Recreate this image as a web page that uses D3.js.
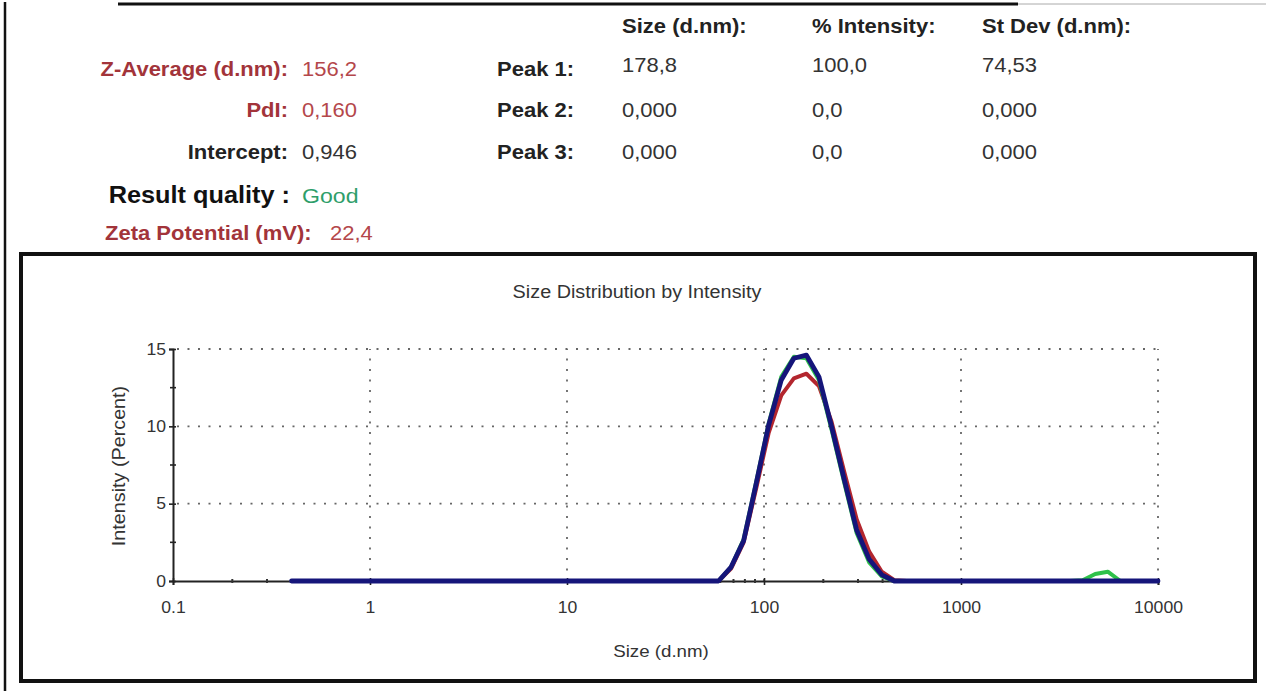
<!DOCTYPE html>
<html>
<head>
<meta charset="utf-8">
<script src="https://cdn.jsdelivr.net/npm/d3@7"></script>
<style>
  html, body { margin: 0; padding: 0; background: #fff; }
  svg { display: block; font-family: "Liberation Sans", Arial, sans-serif; }
</style>
</head>
<body>
<svg id="chart" width="1266" height="691"></svg>
<script>
// ---------- DATA ----------
const sizes      = [0.4, 43.82, 50.75, 58.77, 68.06, 78.82, 91.28, 105.7, 122.4, 141.8, 164.2, 190.1, 220.2, 255.0, 295.3, 342.0, 396.1, 458.7, 531.2, 615.1, 3580, 4145, 4801, 5560, 6439, 7456, 10000];
const record1Red   = [0, 0, 0, 0, 0.8, 2.5, 6.0, 9.6, 12.0, 13.1, 13.4, 12.6, 10.3, 7.1, 4.0, 1.9, 0.6, 0.05, 0, 0, 0, 0, 0, 0, 0, 0, 0];
const record2Green = [0, 0, 0, 0, 0.9, 2.7, 6.4, 10.2, 13.2, 14.5, 14.4, 13.0, 9.8, 6.4, 3.1, 1.2, 0.3, 0, 0, 0, 0, 0.05, 0.45, 0.6, 0, 0, 0];
const record3Blue  = [0, 0, 0, 0, 0.9, 2.6, 6.3, 10.1, 13.0, 14.4, 14.6, 13.2, 10.0, 6.6, 3.3, 1.4, 0.4, 0, 0, 0, 0, 0, 0, 0, 0, 0, 0];

const xTickValues = [0.1, 1, 10, 100, 1000, 10000];
const xTickLabels = ["0.1", "1", "10", "100", "1000", "10000"];
const xGridValues = [1, 10, 100, 1000, 10000];
const yTickValues = [0, 5, 10, 15];
const yTickLabels = ["0", "5", "10", "15"];
const yMinorValues = [2.5, 7.5, 12.5];
const yGridValues = [5, 10, 15];

const chartTitle = "Size Distribution by Intensity";
const xAxisTitle = "Size (d.nm)";
const yAxisTitle = "Intensity (Percent)";

const leftLabels = ["Z-Average (d.nm):", "PdI:", "Intercept:"];
const leftValues = ["156,2", "0,160", "0,946"];
const qualityLabel = "Result quality :";
const qualityValue = "Good";
const zetaLabel = "Zeta Potential (mV):";
const zetaValue = "22,4";
const peakLabels = ["Peak 1:", "Peak 2:", "Peak 3:"];
const peakHeaders = ["Size (d.nm):", "% Intensity:", "St Dev (d.nm):"];
const peakSize = ["178,8", "0,000", "0,000"];
const peakIntensity = ["100,0", "0,0", "0,0"];
const peakStDev = ["74,53", "0,000", "0,000"];

// ---------- SETUP ----------
const svg = d3.select("#chart");
const K = 1.1; // horizontal glyph stretch of the reference
function stretch(sel, k) {
  sel.each(function () {
    const L = this.getComputedTextLength();
    d3.select(this).attr("textLength", L * k).attr("lengthAdjust", "spacingAndGlyphs");
  });
  return sel;
}

// outer frame
svg.append("line").attr("x1", 118).attr("x2", 1018).attr("y1", 4).attr("y2", 4)
  .attr("stroke", "#111").attr("stroke-width", 3);
svg.append("line").attr("x1", 1018).attr("x2", 1266).attr("y1", 4).attr("y2", 4)
  .attr("stroke", "#aaa").attr("stroke-width", 1);
svg.append("line").attr("x1", 5).attr("x2", 5).attr("y1", 2).attr("y2", 691)
  .attr("stroke", "#111").attr("stroke-width", 2.5);

// ---------- HEADER TEXT ----------
const red1 = "#a2343a", red2 = "#b4474b", dark = "#222", grey = "#333";
const rowY = [76, 117, 159];
const rowYRight = [72, 117, 159];

const hdr = svg.append("g").attr("font-size", 20);
leftLabels.forEach((t, i) => {
  stretch(hdr.append("text").attr("x", 288).attr("y", rowY[i]).attr("text-anchor", "end")
    .attr("font-weight", "bold").attr("fill", i < 2 ? red1 : dark).text(t), K);
  stretch(hdr.append("text").attr("x", 302).attr("y", rowY[i])
    .attr("fill", i < 2 ? red2 : grey).text(leftValues[i]), K);
});
stretch(hdr.append("text").attr("x", 290).attr("y", 203).attr("text-anchor", "end")
  .attr("font-size", 23).attr("font-weight", "bold").attr("fill", "#111").text(qualityLabel), K);
stretch(hdr.append("text").attr("x", 302).attr("y", 203)
  .attr("font-size", 21).attr("fill", "#2e9e6a").text(qualityValue), K);
stretch(hdr.append("text").attr("x", 105).attr("y", 240)
  .attr("font-weight", "bold").attr("fill", red1).text(zetaLabel), K);
stretch(hdr.append("text").attr("x", 330).attr("y", 240)
  .attr("fill", red2).text(zetaValue), K);

peakLabels.forEach((t, i) => {
  stretch(hdr.append("text").attr("x", 497).attr("y", rowY[i])
    .attr("font-weight", "bold").attr("fill", dark).text(t), K);
});
const colX = [622, 812, 982];
peakHeaders.forEach((t, i) => {
  stretch(hdr.append("text").attr("x", colX[i]).attr("y", 33)
    .attr("font-weight", "bold").attr("fill", dark).text(t), K);
});
[peakSize, peakIntensity, peakStDev].forEach((col, j) => {
  col.forEach((t, i) => {
    stretch(hdr.append("text").attr("x", colX[j]).attr("y", rowYRight[i])
      .attr("fill", grey).text(t), K);
  });
});

// ---------- CHART BOX ----------
svg.append("rect").attr("x", 21).attr("y", 254).attr("width", 1234).attr("height", 427)
  .attr("fill", "none").attr("stroke", "#111").attr("stroke-width", 4);

const x = d3.scaleLog().domain([0.1, 10000]).range([173, 1158]);
const y = d3.scaleLinear().domain([0, 15]).range([581, 349]);

// title
stretch(svg.append("text").attr("x", 637).attr("y", 298).attr("text-anchor", "middle")
  .attr("font-size", 18).attr("fill", "#333").text(chartTitle), K);

// grid
const grid = svg.append("g").attr("stroke", "#666").attr("stroke-width", 1.8)
  .attr("stroke-dasharray", "2,8.5");
grid.selectAll(".vg").data(xGridValues).join("line")
  .attr("x1", d => x(d)).attr("x2", d => x(d)).attr("y1", y(0)).attr("y2", y(15));
grid.selectAll(".hg").data(yGridValues).join("line")
  .attr("x1", x(0.1) + 4).attr("x2", x(10000)).attr("y1", d => y(d)).attr("y2", d => y(d));

// axes
const xAxis = d3.axisBottom(x).tickValues(xTickValues)
  .tickFormat((d, i) => xTickLabels[i]).tickSize(4).tickPadding(17);
const gx = svg.append("g").attr("transform", `translate(0,${y(0)})`).call(xAxis);
gx.select(".domain").attr("stroke", "#222").attr("stroke-width", 1.8);
gx.selectAll(".tick line").attr("stroke", "#222").attr("y1", -3).attr("stroke-width", 1.6);
gx.selectAll(".tick text").attr("font-size", 16).attr("fill", "#333")
  .attr("font-family", "'Liberation Sans', Arial, sans-serif");
stretch(gx.selectAll(".tick text"), K);

// minor x ticks
const minorX = [];
[0.1, 1, 10, 100, 1000].forEach(dec => [2, 3, 4, 5, 6, 7, 8, 9].forEach(m => minorX.push(dec * m)));
svg.append("g").selectAll("line").data(minorX).join("line")
  .attr("x1", d => x(d)).attr("x2", d => x(d)).attr("y1", y(0) - 2).attr("y2", y(0) + 2)
  .attr("stroke", "#333").attr("stroke-width", 2);

const yAxis = d3.axisLeft(y).tickValues(yTickValues)
  .tickFormat((d, i) => yTickLabels[i]).tickSize(4).tickPadding(3);
const gy = svg.append("g").attr("transform", `translate(${x(0.1)},0)`).call(yAxis);
gy.select(".domain").attr("stroke", "#222").attr("stroke-width", 2);
gy.selectAll(".tick line").attr("stroke", "#222").attr("x2", -4).attr("x1", 3).attr("stroke-width", 1.6);
gy.selectAll(".tick text").attr("font-size", 16).attr("fill", "#333")
  .attr("font-family", "'Liberation Sans', Arial, sans-serif");
stretch(gy.selectAll(".tick text"), K);
svg.append("g").selectAll("line").data(yMinorValues).join("line")
  .attr("x1", x(0.1) - 3).attr("x2", x(0.1) + 3).attr("y1", d => y(d)).attr("y2", d => y(d))
  .attr("stroke", "#222").attr("stroke-width", 1.6);

// axis titles
stretch(svg.append("text").attr("x", 661).attr("y", 657).attr("text-anchor", "middle")
  .attr("font-size", 17).attr("fill", "#333").text(xAxisTitle), K);
stretch(svg.append("text").attr("transform", "translate(125,466) rotate(-90)")
  .attr("text-anchor", "middle").attr("font-size", 19).attr("fill", "#333").text(yAxisTitle), 1.04);

// ---------- SERIES ----------
const line = d3.line().x(d => x(d[0])).y(d => y(d[1]));
const series = [
  { vals: record1Red,   color: "#b3262e", w: 4 },
  { vals: record2Green, color: "#2fc24a", w: 4 },
  { vals: record3Blue,  color: "#15157a", w: 4.8 }
];
series.forEach(s => {
  svg.append("path").datum(sizes.map((sz, i) => [sz, s.vals[i]]))
    .attr("d", line).attr("fill", "none").attr("stroke", s.color)
    .attr("stroke-width", s.w).attr("stroke-linejoin", "round").attr("stroke-linecap", "round");
});
</script>
</body>
</html>
